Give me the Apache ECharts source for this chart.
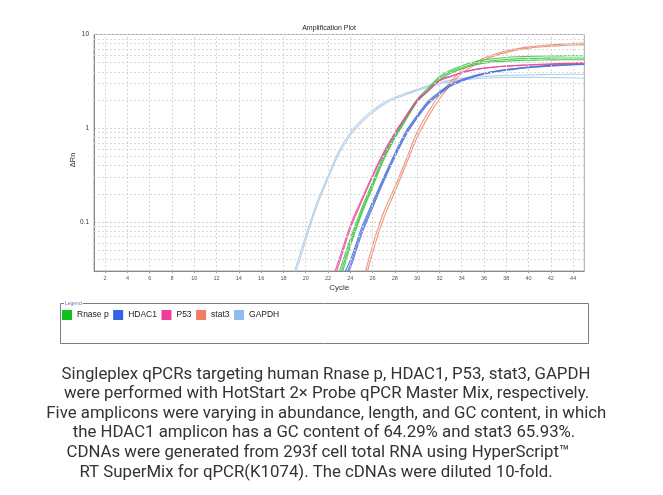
<!DOCTYPE html>
<html>
<head>
<meta charset="utf-8">
<script src="https://cdn.jsdelivr.net/npm/echarts@6/dist/echarts.min.js"></script>
<style>
html,body{margin:0;padding:0;background:#fff;}
#c{width:663px;height:495px;}
</style>
</head>
<body>
<div id="c"></div>
<script>
// ---- data ----
const CYCLE_TICKS = [2,4,6,8,10,12,14,16,18,20,22,24,26,28,30,32,34,36,38,40,42,44];
const Y_MINOR = [0.04,0.05,0.06,0.07,0.08,0.09,0.2,0.3,0.4,0.5,0.6,0.7,0.8,0.9,2,3,4,5,6,7,8,9];
const GENES = ['Rnase p','HDAC1','P53','stat3','GAPDH'];

// each replicate: values for consecutive cycles starting at its start cycle
const GAPDH_START = 18;
const GAPDH_A = [0.012,0.03,0.071,0.161,0.31,0.58,0.9,1.22,1.55,1.88,2.14,2.37,2.6,2.85,3.08,3.26,3.4,3.5,3.57,3.62,3.66,3.69,3.71,3.73,3.74,3.75,3.76,3.77];
const GAPDH_B = [0.01,0.026,0.064,0.148,0.29,0.54,0.84,1.15,1.47,1.79,2.05,2.28,2.52,2.76,2.97,3.14,3.27,3.36,3.42,3.46,3.48,3.49,3.49,3.48,3.47,3.46,3.44,3.42];

const STAT3_START = 25;
const STAT3_A = [0.02,0.056,0.128,0.236,0.46,0.91,1.49,2.26,3.13,4.13,4.84,5.6,6.2,6.7,7.05,7.38,7.58,7.75,7.9,8.02,8.1];
const STAT3_B = [0.017,0.047,0.11,0.21,0.41,0.8,1.33,2.05,2.9,3.85,4.6,5.35,5.95,6.45,6.85,7.15,7.35,7.5,7.62,7.72,7.8];

const HDAC1_START = 23;
const HDAC1_A = [0.022,0.039,0.086,0.163,0.30,0.54,0.93,1.38,1.95,2.45,2.95,3.3,3.6,3.85,4.05,4.22,4.35,4.47,4.57,4.65,4.72,4.78,4.82];
const HDAC1_B = [0.019,0.035,0.079,0.152,0.285,0.515,0.89,1.33,1.88,2.38,2.88,3.25,3.56,3.82,4.04,4.22,4.37,4.5,4.61,4.7,4.78,4.85,4.9];
const HDAC1_C = [0.017,0.032,0.073,0.142,0.27,0.49,0.85,1.28,1.82,2.3,2.8,3.18,3.5,3.76,3.98,4.15,4.3,4.42,4.52,4.6,4.67,4.73,4.78];

const RNASEP_START = 23;
const RNASEP_A = [0.029,0.066,0.138,0.265,0.51,0.85,1.33,2.05,2.7,3.54,4.15,4.65,5.05,5.36,5.55,5.69,5.78,5.84,5.88,5.9,5.92,5.93,5.94];
const RNASEP_B = [0.025,0.06,0.128,0.25,0.48,0.81,1.27,1.96,2.6,3.4,4.0,4.45,4.85,5.12,5.3,5.42,5.5,5.55,5.58,5.6,5.61,5.62,5.62];
const RNASEP_C = [0.022,0.055,0.12,0.235,0.46,0.78,1.23,1.9,2.5,3.25,3.85,4.3,4.68,4.95,5.1,5.2,5.27,5.31,5.34,5.36,5.37,5.38,5.38];

const P53_START = 22;
const P53_A = [0.018,0.040,0.092,0.173,0.318,0.557,0.90,1.36,2.0,2.55,3.26,3.6,3.94,4.2,4.38,4.5,4.6,4.66,4.71,4.76,4.8,4.86,4.92,4.95];
const P53_B = [0.016,0.036,0.085,0.163,0.303,0.535,0.87,1.32,1.95,2.5,3.2,3.55,3.9,4.17,4.36,4.5,4.62,4.7,4.76,4.82,4.87,4.92,4.97,5.0];

const CAPTION_LINES = [
  'Singleplex qPCRs targeting human Rnase p, HDAC1, P53, stat3, GAPDH',
  'were performed with HotStart 2\u00d7 Probe qPCR Master Mix, respectively.',
  'Five amplicons were varying in abundance, length, and GC content, in which',
  'the HDAC1 amplicon has a GC content of 64.29% and stat3 65.93%.',
  'CDNAs were generated from 293f cell total RNA using HyperScript\u2122',
  'RT SuperMix for qPCR(K1074). The cDNAs were diluted 10-fold.'
];

// ---- styles ----
const LINE_COLORS = {'Rnase p':'#3cc444','HDAC1':'#4d74d9','P53':'#e8479d','stat3':'#e98a70','GAPDH':'#a9cbea'};
const SWATCH_COLORS = {'Rnase p':'#12c01a','HDAC1':'#3563e6','P53':'#f23d98','stat3':'#f17e62','GAPDH':'#8fbdf0'};
const FONT = 'Liberation Sans, Arial, sans-serif';

function rep(name, start, values){
  return {
    name: name, type: 'line', z: 3,
    data: values.map((v,i)=>[start+i, v]),
    showSymbol: false, symbol: 'none', smooth: 0.3, clip: true,
    lineStyle: {color: LINE_COLORS[name], width: 1.1, opacity: 0.9},
    itemStyle: {color: LINE_COLORS[name]},
    silent: true
  };
}

const gridLineStyle = {type: [2,2], color: '#d8d8d8', width: 1};
const series = [
  {
    name: '_hgrid', type: 'line', data: [], z: 1, silent: true,
    markLine: {
      silent: true, symbol: 'none', animation: false, label: {show: false},
      lineStyle: gridLineStyle,
      data: Y_MINOR.map(v=>({yAxis: v}))
    }
  },
  {
    name: '_vgrid', type: 'line', data: [], z: 1, silent: true,
    markLine: {
      silent: true, symbol: 'none', animation: false, label: {show: false},
      lineStyle: gridLineStyle,
      data: CYCLE_TICKS.map(v=>({xAxis: v}))
    }
  },
  rep('GAPDH', GAPDH_START, GAPDH_A),
  rep('GAPDH', GAPDH_START, GAPDH_B),
  rep('stat3', STAT3_START, STAT3_A),
  rep('stat3', STAT3_START, STAT3_B),
  rep('HDAC1', HDAC1_START, HDAC1_A),
  rep('HDAC1', HDAC1_START, HDAC1_B),
  rep('HDAC1', HDAC1_START, HDAC1_C),
  rep('Rnase p', RNASEP_START, RNASEP_A),
  rep('Rnase p', RNASEP_START, RNASEP_B),
  rep('Rnase p', RNASEP_START, RNASEP_C),
  rep('P53', P53_START, P53_A),
  rep('P53', P53_START, P53_B)
];

const CAP_X = [326, 326.5, 326.3, 324, 318, 316];
const CAP_Y0 = 374.5, CAP_DY = 19.6;
const graphics = [
  {type:'rect', shape:{x:60.5, y:303.5, width:528, height:40}, style:{fill:'none', stroke:'#6f8093', lineWidth:1}, z:10},
  {type:'text', x:64, y:303.5, style:{text:'Legend', fontSize:5, fill:'#6a80a0', backgroundColor:'#fff', padding:[0,1], verticalAlign:'middle', fontFamily:FONT}, z:11},
  {type:'text', x:73, y:160, rotation: Math.PI/2, style:{text:'\u0394Rn', fontSize:7.5, fill:'#333', align:'center', verticalAlign:'middle', fontFamily:FONT}, z:11}
].concat(CAPTION_LINES.map((t,i)=>({
  type:'text', x: CAP_X[i], y: CAP_Y0 + i*CAP_DY,
  style:{text:t, fontSize:16.8, fill:'#333', align:'center', verticalAlign:'middle', fontFamily:'Roboto, Liberation Sans, Arial, sans-serif'}
})));

const chart = echarts.init(document.getElementById('c'), null, {renderer:'canvas'});
chart.setOption({
  animation: false,
  backgroundColor: '#fff',
  title: {
    text: 'Amplification Plot', left: 324, top: 20, textAlign: 'center',
    textStyle: {fontSize: 7, fontWeight: 'normal', color: '#222', fontFamily: FONT}
  },
  legend: {
    data: GENES.map(g=>({name:g, itemStyle:{color:SWATCH_COLORS[g], opacity:1}, lineStyle:{opacity:0}})),
    left: 62, top: 310, orient: 'horizontal', padding: 0,
    icon: 'rect', itemWidth: 10, itemHeight: 10, itemGap: 4.5,
    textStyle: {fontSize: 8.5, color: '#222', fontFamily: FONT},
    selectedMode: false
  },
  grid: {left: 94, right: 78.7, top: 34.5, bottom: 224, show: true, borderColor: '#a8a8a8', borderWidth: 1},
  xAxis: {
    type: 'value', min: 1, max: 45,
    name: 'Cycle', nameLocation: 'middle', nameGap: 13,
    nameTextStyle: {fontSize: 8, color: '#333', fontFamily: FONT},
    axisLine: {show: true, lineStyle: {color: '#8a8a8a'}},
    axisTick: {show: true, length: 2, customValues: CYCLE_TICKS, lineStyle: {color: '#999'}},
    axisLabel: {customValues: CYCLE_TICKS, fontSize: 5.5, color: '#555', margin: 4, fontFamily: FONT},
    splitLine: {show: false}
  },
  yAxis: {
    type: 'log', logBase: 10, min: 0.03, max: 10,
    axisLine: {show: true, lineStyle: {color: '#8a8a8a'}},
    axisTick: {show: false},
    axisLabel: {showMinLabel: false, fontSize: 6.5, color: '#333', margin: 5, fontFamily: FONT,
      formatter: v => (v >= 1 ? String(Math.round(v)) : String(+v.toPrecision(1)))},
    splitLine: {show: true, lineStyle: {type: [2,2], color: '#d0d0d0', width: 1}}
  },
  graphic: graphics,
  series: series
});
</script>
</body>
</html>
